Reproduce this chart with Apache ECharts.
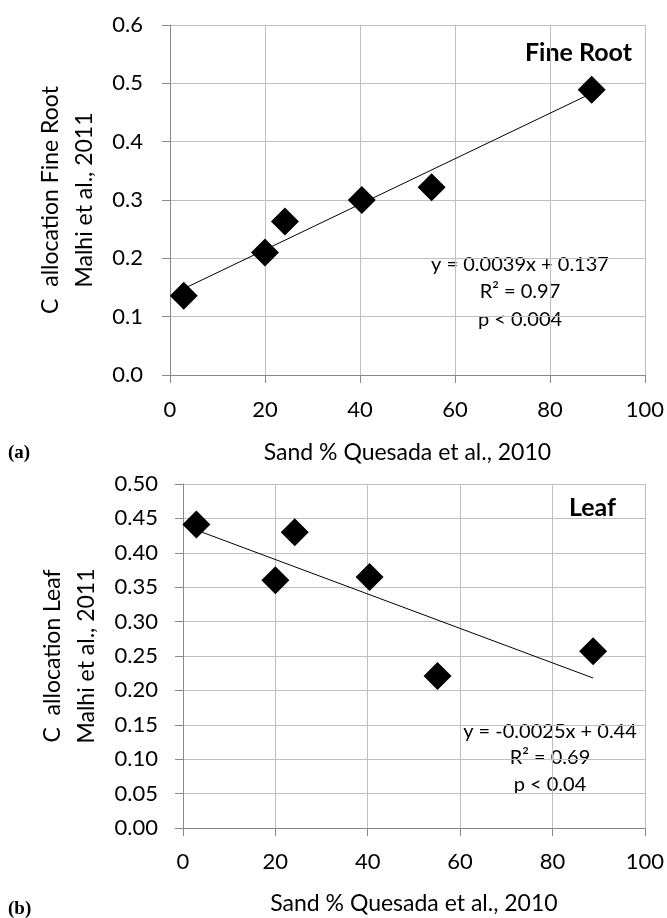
<!DOCTYPE html>
<html>
<head>
<meta charset="utf-8">
<script src="https://cdn.jsdelivr.net/npm/echarts@6/dist/echarts.min.js"></script>
<style>
  html, body { margin: 0; padding: 0; background: #fff; }
  #main { width: 667px; height: 918px; }
</style>
</head>
<body>
<div id="main"></div>
<script>
// data
var sandPct = [2.9, 20.0, 24.2, 40.4, 55.1, 88.8];
var fineRoot = [0.136, 0.210, 0.263, 0.300, 0.322, 0.489];
var leaf = [0.441, 0.360, 0.430, 0.365, 0.221, 0.257];
// regression line ends
var rootTrend = [[2.9, 0.148], [88.8, 0.483]];
var leafTrend = [[2.9, 0.433], [88.8, 0.218]];

var rootPoints = sandPct.map(function(x, i) { return [x, fineRoot[i]]; });
var leafPoints = sandPct.map(function(x, i) { return [x, leaf[i]]; });

var FONT = 'Lato, "Noto Sans", sans-serif';
var axisGray = '#898989';
var gridGray = '#bfbfbf';

function xAx(gridIndex, margin, gap) {
    return {
        gridIndex: gridIndex,
        type: 'value',
        min: 0,
        max: 100,
        interval: 20,
        name: 'Sand % Quesada et al., 2010',
        nameLocation: 'middle',
        nameGap: gap,
        nameTextStyle: { fontFamily: FONT, fontSize: 23, color: '#000' },
        axisLine: { show: true, onZero: false, lineStyle: { color: axisGray, width: 1 } },
        axisTick: { show: true, length: 8, lineStyle: { color: axisGray } },
        axisLabel: { margin: margin, fontFamily: FONT, fontSize: 22, color: '#000' },
        splitLine: { show: true, lineStyle: { color: gridGray, width: 1 } }
    };
}

function yAx(gridIndex, max, interval, decimals, name, gap, margin) {
    return {
        gridIndex: gridIndex,
        type: 'value',
        min: 0,
        max: max,
        interval: interval,
        name: name,
        nameLocation: 'middle',
        nameGap: gap,
        nameRotate: 90,
        nameTextStyle: { fontFamily: FONT, fontSize: 23, color: '#000', lineHeight: 34, align: 'center' },
        axisLine: { show: true, lineStyle: { color: axisGray, width: 1 } },
        axisTick: { show: true, length: 8, lineStyle: { color: axisGray } },
        axisLabel: {
            margin: margin, fontFamily: FONT, fontSize: 22, color: '#000',
            formatter: function(v) { return v.toFixed(decimals); }
        },
        splitLine: { show: true, lineStyle: { color: gridGray, width: 1 } }
    };
}

function txt(x, y, text, size, bold, align, family) {
    return {
        type: 'text',
        x: x,
        y: y,
        style: {
            text: text,
            fill: '#000',
            font: (bold ? 'bold ' : '') + size + 'px ' + (family || FONT),
            textAlign: align || 'center',
            textVerticalAlign: 'middle'
        }
    };
}

var dom = document.getElementById('main');
var myChart = echarts.init(dom);

var option = {
    animation: false,
    backgroundColor: '#fff',
    grid: [
        { left: 170, right: 22, top: 25, height: 350 },
        { left: 183, right: 22, top: 484, height: 344 }
    ],
    xAxis: [xAx(0, 24, 66), xAx(1, 23, 64)],
    yAxis: [
        yAx(0, 0.6, 0.1, 1, 'C  allocation Fine Root\nMalhi et al., 2011', 63, 27),
        yAx(1, 0.5, 0.05, 2, 'C  allocation Leaf\nMalhi et al., 2011', 76, 25)
    ],
    series: [
        {
            type: 'line',
            xAxisIndex: 0, yAxisIndex: 0,
            data: rootTrend,
            showSymbol: false,
            lineStyle: { color: '#000', width: 1 },
            z: 2
        },
        {
            type: 'scatter',
            xAxisIndex: 0, yAxisIndex: 0,
            data: rootPoints,
            symbol: 'diamond',
            symbolSize: 28,
            itemStyle: { color: '#000', opacity: 1 },
            z: 3
        },
        {
            type: 'line',
            xAxisIndex: 1, yAxisIndex: 1,
            data: leafTrend,
            showSymbol: false,
            lineStyle: { color: '#000', width: 1 },
            z: 2
        },
        {
            type: 'scatter',
            xAxisIndex: 1, yAxisIndex: 1,
            data: leafPoints,
            symbol: 'diamond',
            symbolSize: 28,
            itemStyle: { color: '#000', opacity: 1 },
            z: 3
        }
    ],
    graphic: [
        txt(632, 53, 'Fine Root', 25, true, 'right'),
        txt(520, 265, 'y = 0.0039x + 0.137', 20),
        txt(520, 292, 'R² = 0.97', 20),
        txt(520, 320, 'p < 0.004', 20),
        txt(616, 508, 'Leaf', 25, true, 'right'),
        txt(550, 732, 'y = -0.0025x + 0.44', 20),
        txt(550, 758, 'R² = 0.69', 20),
        txt(550, 785, 'p < 0.04', 20),
        txt(8, 453, '(a)', 19, true, 'left', '"Liberation Serif", serif'),
        txt(8, 909, '(b)', 19, true, 'left', '"Liberation Serif", serif')
    ]
};

myChart.setOption(option);

window.addEventListener('resize', function() {
    myChart.resize();
});
</script>
</body>
</html>
